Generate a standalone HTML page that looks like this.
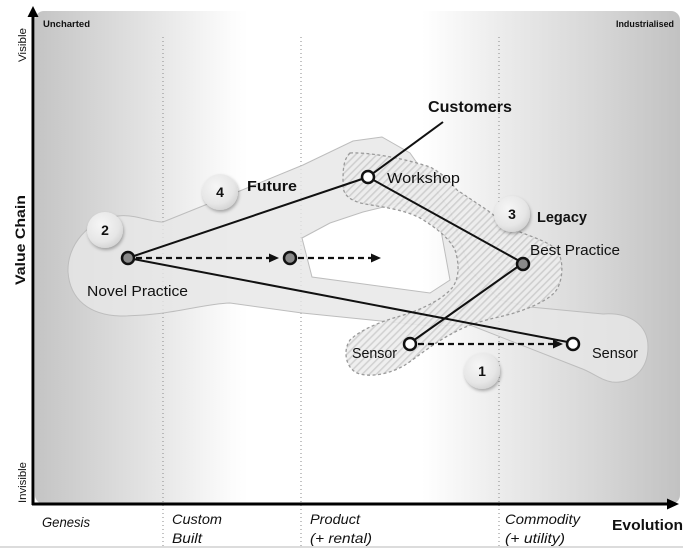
<!DOCTYPE html>
<html><head><meta charset="utf-8"><style>
html,body{margin:0;padding:0;background:#fff;}
svg{display:block;}
text{font-family:"Liberation Sans",sans-serif;fill:#111;}
</style></head><body>
<svg width="700" height="548" viewBox="0 0 700 548" xmlns="http://www.w3.org/2000/svg">
<defs>
<linearGradient id="bg" gradientUnits="userSpaceOnUse" x1="35" y1="0" x2="680" y2="0">
<stop offset="0" stop-color="#c4c4c4"/>
<stop offset="0.10" stop-color="#d6d6d6"/>
<stop offset="0.19" stop-color="#e6e6e6"/>
<stop offset="0.30" stop-color="#fbfbfb"/>
<stop offset="0.33" stop-color="#ffffff"/>
<stop offset="0.60" stop-color="#ffffff"/>
<stop offset="0.72" stop-color="#ececec"/>
<stop offset="0.876" stop-color="#d6d6d6"/>
<stop offset="1" stop-color="#c2c2c2"/>
</linearGradient>
<pattern id="hatch" width="5" height="5" patternUnits="userSpaceOnUse" patternTransform="rotate(45)">
<rect width="5" height="5" fill="#ededed"/>
<rect width="1.6" height="5" fill="#cdcdcd"/>
</pattern>
<radialGradient id="badge" cx="0.4" cy="0.35" r="0.7">
<stop offset="0" stop-color="#f6f6f6"/>
<stop offset="0.7" stop-color="#e6e6e6"/>
<stop offset="1" stop-color="#d2d2d2"/>
</radialGradient>
<filter id="sh" x="-40%" y="-40%" width="180%" height="180%">
<feDropShadow dx="1" dy="2" stdDeviation="1.5" flood-color="#000" flood-opacity="0.3"/>
</filter>
</defs>

<!-- chart background -->
<rect x="35" y="11" width="645" height="493" rx="9" fill="url(#bg)"/>

<!-- dotted verticals -->
<g stroke="#8a8a8a" stroke-width="1" stroke-dasharray="1 3">
<line x1="163" y1="37" x2="163" y2="548"/>
<line x1="301" y1="37" x2="301" y2="548"/>
<line x1="499" y1="37" x2="499" y2="548"/>
</g>

<!-- corner labels -->
<text x="43" y="27" font-size="9.5" font-weight="bold" textLength="47" lengthAdjust="spacingAndGlyphs">Uncharted</text>
<text x="616" y="27" font-size="9.5" font-weight="bold" textLength="58" lengthAdjust="spacingAndGlyphs">Industrialised</text>

<!-- light gray blob -->
<path fill-rule="evenodd" fill="#e6e6e6" fill-opacity="0.82" stroke="#bdbdbd" stroke-width="1"
d="M163,222 L230,195 L303,165 L353,141 L382,137 L410,153 L450,210 L470,270 L500,300 L530,307 L603,314
C630,312 648,325 648,347 C648,370 632,384 612,382 C600,380 592,372 580,368 L470,325 L430,326 L302,313 L230,303
C200,304 170,316 120,316 C90,315 70,300 68,272 C67,245 88,220 118,216 C135,214 150,222 163,222 Z
M302,238 L330,223 L363,212 L400,203 L440,225 L450,280 L430,293 L312,277 Z"/>

<!-- hatched region -->
<path fill="url(#hatch)" fill-opacity="0.9" stroke="#9a9a9a" stroke-width="1.3" stroke-dasharray="3 2.5" stroke-linejoin="round"
d="M350,153 C365,152 400,157 430,167 C445,175 450,182 457,190 L487,210 C500,220 510,228 520,232 C535,238 552,243 558,252 C564,262 563,282 555,292 C545,303 520,312 503,316 C485,320 470,324 455,332 C435,342 420,355 405,365 C390,374 370,378 357,373 C345,367 343,350 350,340 C360,330 380,322 397,317 C415,312 440,302 452,288 C460,278 459,262 455,250 C450,240 440,230 420,218 C405,210 383,207 365,204 C350,201 343,195 343,185 C343,170 343,160 350,153 Z"/>

<!-- solid lines -->
<g stroke="#111" stroke-width="2" fill="none">
<line x1="443" y1="122" x2="368" y2="177"/>
<line x1="128" y1="258" x2="368" y2="177"/>
<line x1="368" y1="177" x2="523" y2="263"/>
<line x1="523" y1="263" x2="410" y2="343"/>
<line x1="128" y1="258" x2="573" y2="343"/>
</g>

<!-- dashed arrows -->
<g stroke="#111" stroke-width="2.2" stroke-dasharray="6 4" fill="none">
<line x1="136" y1="258" x2="270" y2="258"/>
<line x1="298" y1="258" x2="372" y2="258"/>
<line x1="418" y1="344" x2="553" y2="344"/>
</g>
<g fill="#111">
<polygon points="279,258 269,253.5 269,262.5"/>
<polygon points="381,258 371,253.5 371,262.5"/>
<polygon points="563,344 553,339.5 553,348.5"/>
</g>

<!-- nodes -->
<g stroke="#111" stroke-width="2.5">
<circle cx="128" cy="258" r="6" fill="#8a8a8a"/>
<circle cx="290" cy="258" r="6" fill="#8a8a8a"/>
<circle cx="523" cy="264" r="6" fill="#8a8a8a"/>
<circle cx="368" cy="177" r="6" fill="#fff"/>
<circle cx="410" cy="344" r="6" fill="#fff"/>
<circle cx="573" cy="344" r="6" fill="#fff"/>
</g>

<!-- badges -->
<g filter="url(#sh)" fill="url(#badge)">
<circle cx="105" cy="230" r="18"/>
<circle cx="220" cy="192" r="18"/>
<circle cx="512" cy="214" r="18"/>
<circle cx="482" cy="371" r="18"/>
</g>
<g font-size="14" font-weight="bold" text-anchor="middle">
<text x="105" y="235">2</text>
<text x="220" y="197">4</text>
<text x="512" y="219">3</text>
<text x="482" y="376">1</text>
</g>

<!-- labels -->
<text x="247" y="191" font-size="15" font-weight="bold" textLength="50" lengthAdjust="spacingAndGlyphs">Future</text>
<text x="537" y="222" font-size="15" font-weight="bold" textLength="50" lengthAdjust="spacingAndGlyphs">Legacy</text>
<text x="428" y="112" font-size="16" font-weight="bold" textLength="84" lengthAdjust="spacingAndGlyphs">Customers</text>
<text x="387" y="183" font-size="15" textLength="73" lengthAdjust="spacingAndGlyphs">Workshop</text>
<text x="530" y="255" font-size="15" textLength="90" lengthAdjust="spacingAndGlyphs">Best Practice</text>
<text x="87" y="296" font-size="15" textLength="101" lengthAdjust="spacingAndGlyphs">Novel Practice</text>
<text x="352" y="358" font-size="15" textLength="45" lengthAdjust="spacingAndGlyphs">Sensor</text>
<text x="592" y="358" font-size="15" textLength="46" lengthAdjust="spacingAndGlyphs">Sensor</text>

<!-- axes -->
<line x1="33" y1="505" x2="33" y2="15" stroke="#000" stroke-width="3"/>
<polygon points="33,6 27.5,17 38.5,17" fill="#000"/>
<line x1="32" y1="504" x2="668" y2="504" stroke="#000" stroke-width="3"/>
<polygon points="679,504 667,498.5 667,509.5" fill="#000"/>

<!-- axis labels -->
<text transform="translate(26,62) rotate(-90)" font-size="11" textLength="34" lengthAdjust="spacingAndGlyphs">Visible</text>
<text transform="translate(26,503) rotate(-90)" font-size="11" textLength="41" lengthAdjust="spacingAndGlyphs">Invisible</text>
<text transform="translate(25,285) rotate(-90)" font-size="14" font-weight="bold" textLength="90" lengthAdjust="spacingAndGlyphs">Value Chain</text>

<g font-size="14" font-style="italic">
<text x="42" y="527" textLength="48" lengthAdjust="spacingAndGlyphs">Genesis</text>
<text x="172" y="524" textLength="50" lengthAdjust="spacingAndGlyphs">Custom</text>
<text x="172" y="543" textLength="30" lengthAdjust="spacingAndGlyphs">Built</text>
<text x="310" y="524" textLength="50" lengthAdjust="spacingAndGlyphs">Product</text>
<text x="310" y="543" textLength="62" lengthAdjust="spacingAndGlyphs">(+ rental)</text>
<text x="505" y="524" textLength="75" lengthAdjust="spacingAndGlyphs">Commodity</text>
<text x="505" y="543" textLength="60" lengthAdjust="spacingAndGlyphs">(+ utility)</text>
</g>
<text x="612" y="530" font-size="15" font-weight="bold" textLength="71" lengthAdjust="spacingAndGlyphs">Evolution</text>

<rect x="0" y="546" width="683" height="2" fill="#dcdcdc"/>
</svg>
</body></html>
